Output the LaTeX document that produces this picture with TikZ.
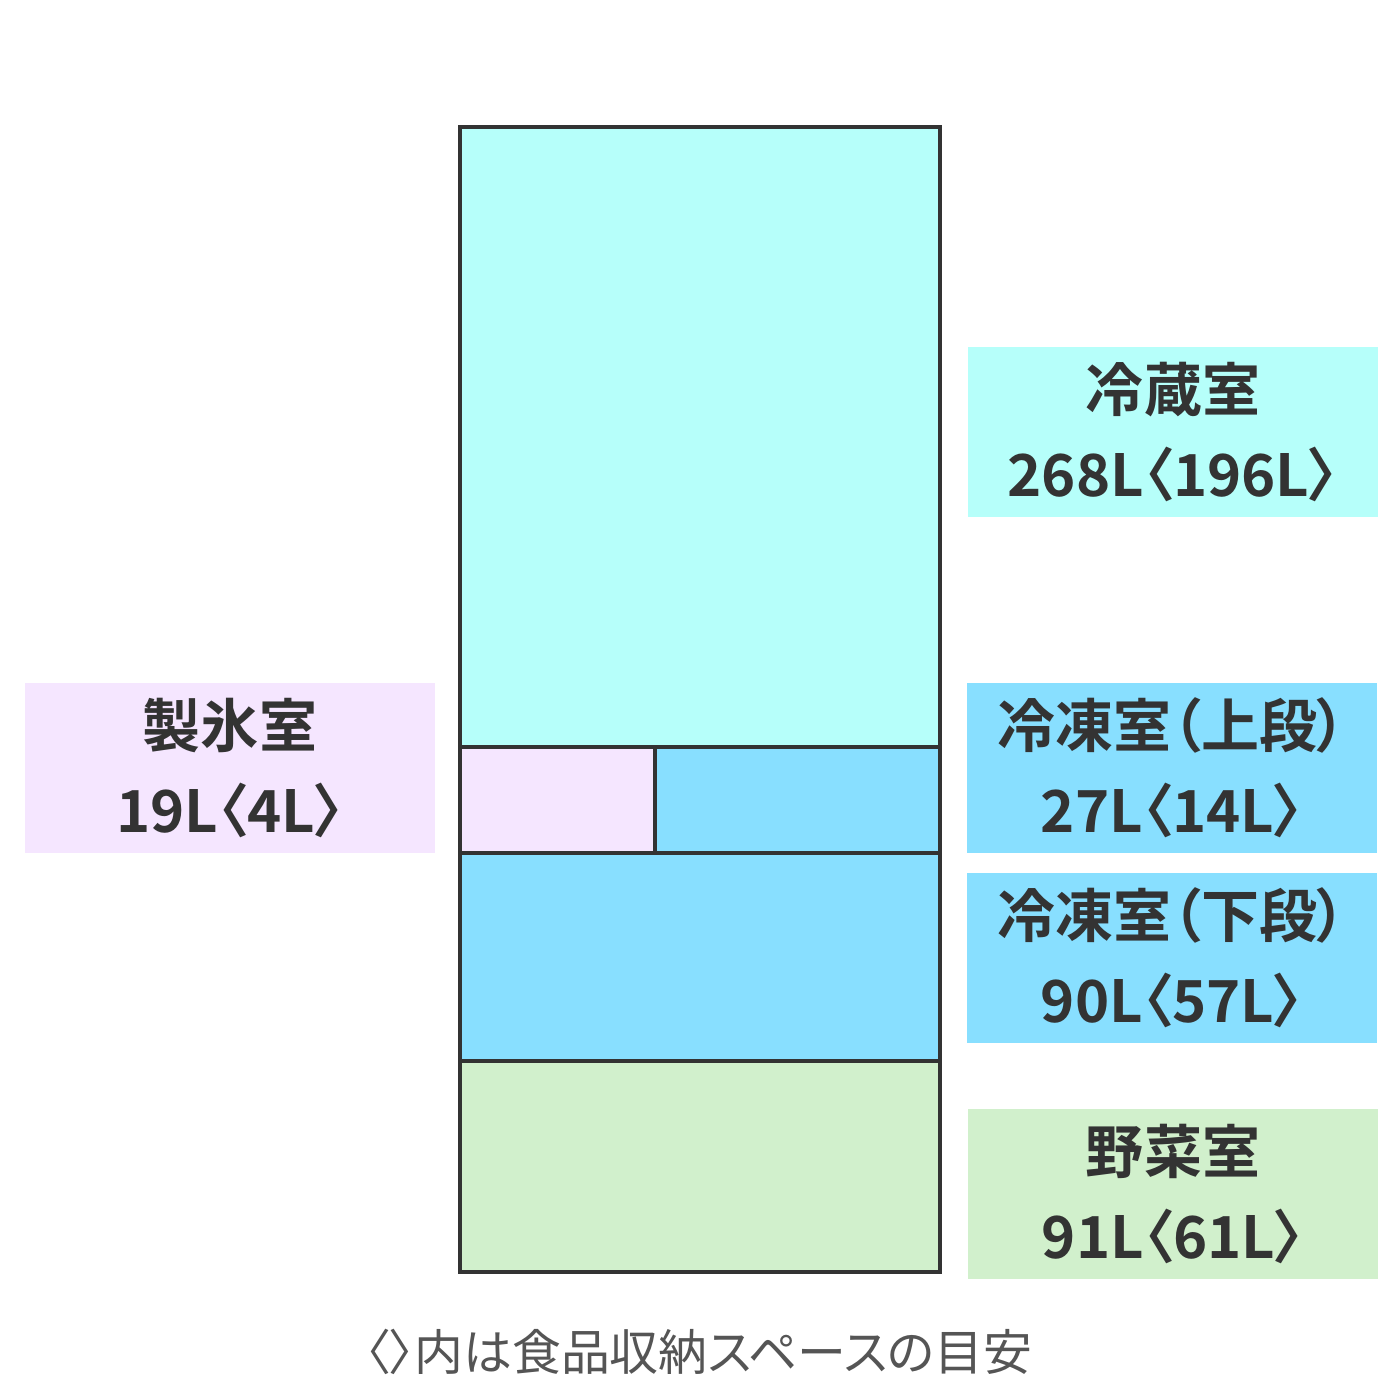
\documentclass[tikz,border=0pt]{standalone}
\usepackage{fontspec}
\setmainfont{Noto Sans CJK JP}[BoldFont={Noto Sans CJK JP Bold},RawFeature=+palt]
\definecolor{reizo}{HTML}{B6FFFA}
\definecolor{reito}{HTML}{88DFFF}
\definecolor{seihyo}{HTML}{F5E6FF}
\definecolor{yasai}{HTML}{D1F0CC}
\definecolor{ink}{HTML}{333333}
\definecolor{note}{HTML}{555555}

\begin{document}
\begin{tikzpicture} [x=0.01cm,y=-0.01cm,
    wall/.style={draw=ink,line width=1.1pt},
    tag/.style={minimum width=4.1cm,minimum height=1.69cm,inner sep=0pt,
      align=center,text=ink,font=\bfseries\fontsize{16.5}{24.2}\selectfont}]
      \useasboundingbox (0,0) rectangle (1400,1400);
      % compartments
      \fill[reizo]  (460,127)  rectangle (940,747);
      \fill[seihyo] (460,747)  rectangle (655,853);
      \fill[reito]  (655,747)  rectangle (940,853);
      \fill[reito]  (460,853)  rectangle (940,1061);
      \fill[yasai]  (460,1061) rectangle (940,1272);
      \draw[wall] (460,127) rectangle (940,1272);
      \draw[wall] (460,747) -- (940,747);
      \draw[wall] (460,853) -- (940,853);
      \draw[wall] (460,1061) -- (940,1061);
      \draw[wall] (655,747) -- (655,853);
      % labels
      \node[tag,fill=reizo]  (reizo)  at (1173,432)  {冷蔵室\\268L〈196L〉};
      \node[tag,fill=seihyo] (seihyo) at (230,768)   {製氷室\\19L〈4L〉};
      \node[tag,fill=reito]  (joudan) at (1172,768)  {冷凍室（上段）\\27L〈14L〉};
      \node[tag,fill=reito]  (gedan)  at (1172,958)  {冷凍室（下段）\\90L〈57L〉};
      \node[tag,fill=yasai]  (yasai)  at (1173,1194) {野菜室\\91L〈61L〉};
      \node[text=note,font=\fontsize{13.9}{16}\selectfont] (note) at (699,1352)
        {〈〉内は食品収納スペースの目安};
    \end{tikzpicture}
\end{document}
